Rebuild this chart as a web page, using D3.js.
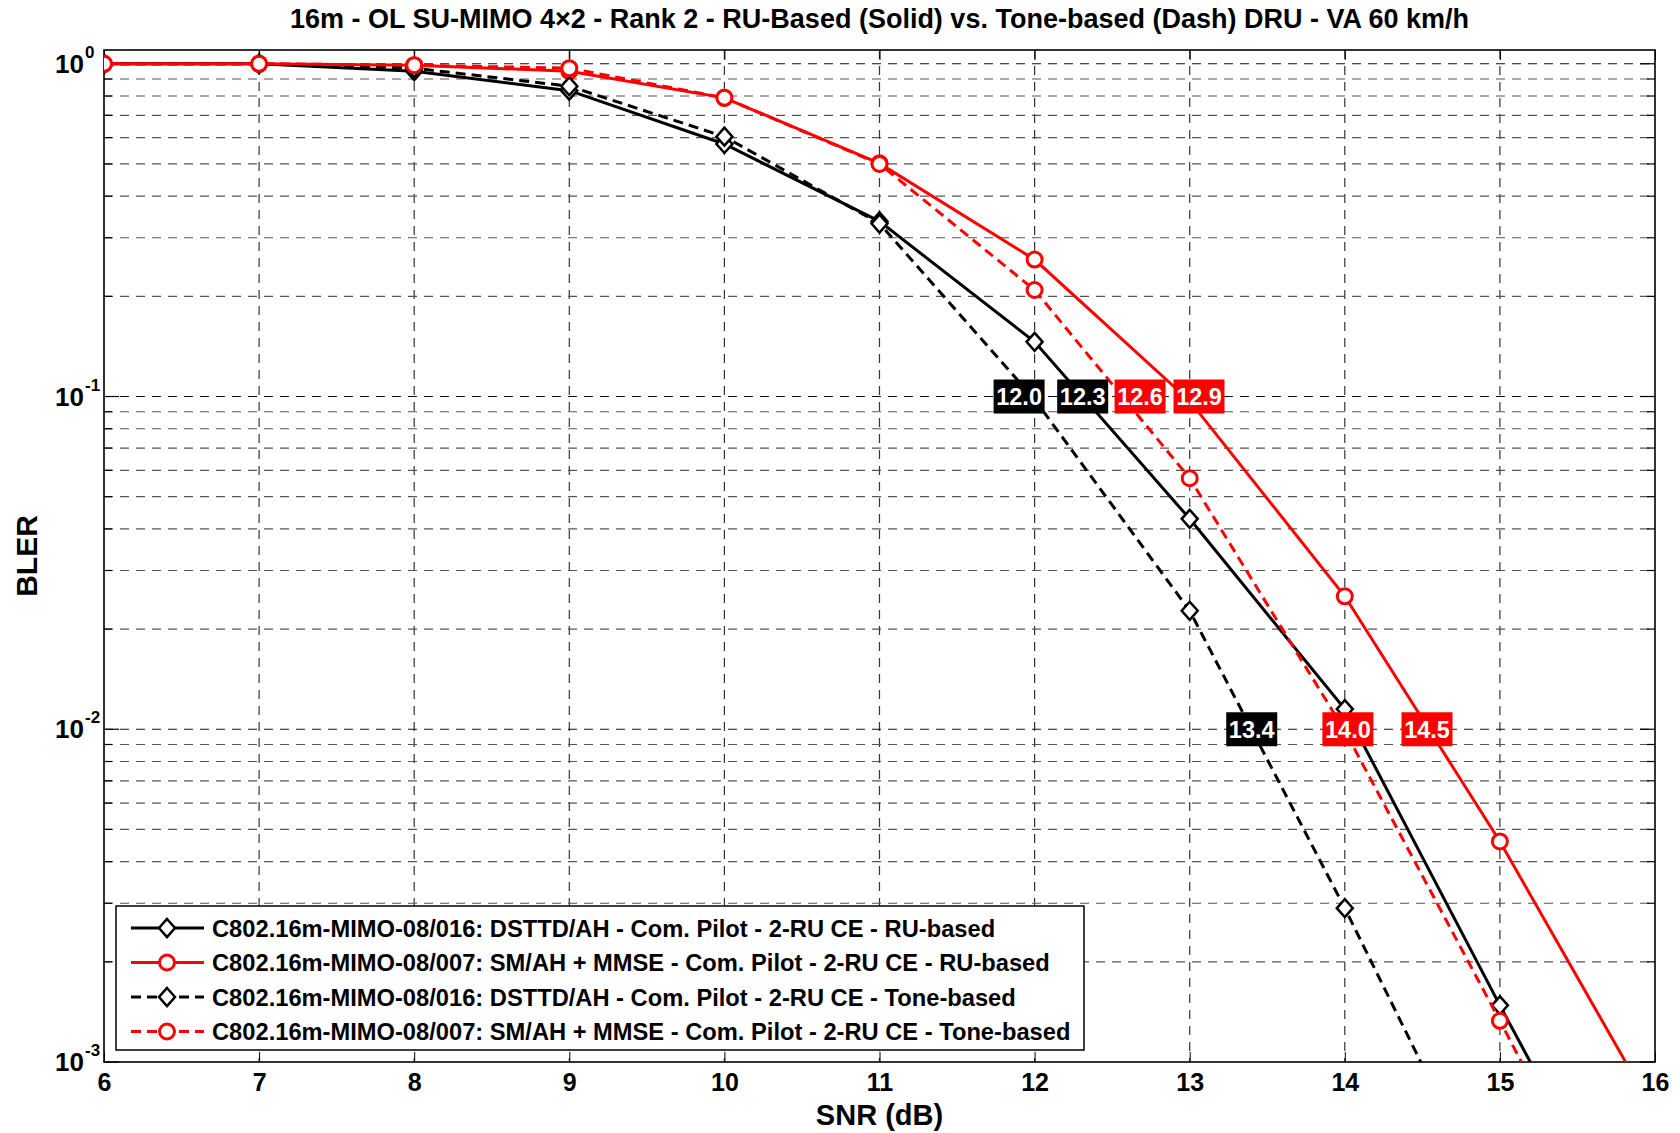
<!DOCTYPE html>
<html>
<head>
<meta charset="utf-8">
<script src="https://cdn.jsdelivr.net/npm/d3@7/dist/d3.min.js"></script>
<style>
  html, body { margin: 0; padding: 0; background: #fff; }
  svg text { font-family: "Liberation Sans Narrow", "Liberation Sans", Arial, sans-serif; font-weight: bold; }
  svg text.wide { font-family: "Liberation Sans", Arial, sans-serif; }
</style>
</head>
<body>
<div id="chart"></div>
<script>
// SNR grid (dB)
const snr = [6, 7, 8, 9, 10, 11, 12, 13, 14, 15, 16];

// BLER per curve
const blerDsttdRu = [1.0, 1.0, 0.95, 0.83, 0.574, 0.336, 0.146, 0.0429, 0.0115, 0.00148, 0.0002];
const blerSmRu = [1.0, 1.0, 0.99, 0.95, 0.79, 0.502, 0.258, 0.097, 0.0251, 0.0046, 0.0007];
const blerDsttdTone = [1.0, 1.0, 0.97, 0.856, 0.604, 0.331, 0.098, 0.0227, 0.0029, 0.00033];
const blerSmTone = [1.0, 1.0, 0.99, 0.97, 0.79, 0.5, 0.209, 0.0568, 0.0099, 0.00133, 0.00017];

const legendLabels = [
    'C802.16m-MIMO-08/016: DSTTD/AH - Com. Pilot - 2-RU CE - RU-based',
    'C802.16m-MIMO-08/007: SM/AH + MMSE - Com. Pilot - 2-RU CE - RU-based',
    'C802.16m-MIMO-08/016: DSTTD/AH - Com. Pilot - 2-RU CE - Tone-based',
    'C802.16m-MIMO-08/007: SM/AH + MMSE - Com. Pilot - 2-RU CE - Tone-based'
];

// threshold annotations (SNR at target BLER)
const markLabels = ['12.0', '12.3', '12.6', '12.9', '13.4', '14.0', '14.5'];
const markSnr = [11.9, 12.31, 12.68, 13.06, 13.4, 14.02, 14.53];
const markBler = [0.1, 0.1, 0.1, 0.1, 0.01, 0.01, 0.01];
const markScheme = ['DSTTD', 'DSTTD', 'SM', 'SM', 'DSTTD', 'SM', 'SM'];

const xTicks = [6, 7, 8, 9, 10, 11, 12, 13, 14, 15, 16];
const yMajor = [-3, -2, -1, 0];

const width = 1680, height = 1133;
const margin = { top: 50, right: 25, bottom: 71, left: 104 };
const RED = '#ff0000';

const series = [
    { values: blerDsttdRu, color: '#000', dash: null, marker: 'diamond' },
    { values: blerSmRu, color: RED, dash: null, marker: 'circle' },
    { values: blerDsttdTone, color: '#000', dash: '10,6', marker: 'diamond' },
    { values: blerSmTone, color: RED, dash: '10,6', marker: 'circle' }
];

const svg = d3.select('#chart').append('svg')
    .attr('width', width)
    .attr('height', height);

const x = d3.scaleLinear()
    .domain([6, 16])
    .range([margin.left, width - margin.right]);

const y = d3.scaleLog()
    .domain([1e-3, 1.1])
    .range([height - margin.bottom, margin.top]);

const x0 = x.range()[0], x1 = x.range()[1];
const yB = y.range()[0], yT = y.range()[1];

svg.append('defs').append('clipPath').attr('id', 'plot-clip')
    .append('rect')
    .attr('x', x0).attr('y', yT)
    .attr('width', x1 - x0).attr('height', yB - yT);

// minor + major y values for the log grid
const yGrid = [];
yMajor.forEach((d) => {
    for (let m = 1; m <= 9; m++) {
        const v = m * Math.pow(10, d);
        if (v <= 1.1) yGrid.push({ v: v, major: m === 1 });
    }
});

const grid = svg.append('g').classed('grid', true);

grid.selectAll('line.gx')
    .data(xTicks.slice(1, -1))
    .join('line')
    .attr('class', 'gx')
    .attr('x1', (d) => x(d)).attr('x2', (d) => x(d))
    .attr('y1', yT).attr('y2', yB)
    .attr('stroke', '#333')
    .attr('stroke-width', 1.2)
    .attr('stroke-dasharray', '9,7');

grid.selectAll('line.gy')
    .data(yGrid.filter((d) => d.v > 1e-3))
    .join('line')
    .attr('class', 'gy')
    .attr('x1', x0).attr('x2', x1)
    .attr('y1', (d) => y(d.v)).attr('y2', (d) => y(d.v))
    .attr('stroke', (d) => (d.major ? '#111' : '#555'))
    .attr('stroke-width', 1.2)
    .attr('stroke-dasharray', '9,7');

// axes: MATLAB style inward ticks on all four sides
const axes = svg.append('g').classed('axes', true);

axes.append('g')
    .attr('transform', `translate(0,${yB})`)
    .call(d3.axisBottom(x).tickValues(xTicks).tickSize(-10).tickPadding(11).tickFormat(d3.format('d')))
    .call((g) => g.select('.domain').remove())
    .call((g) => g.selectAll('text').attr('font-size', 25).attr('fill', '#000'));

axes.append('g')
    .attr('transform', `translate(0,${yT})`)
    .call(d3.axisTop(x).tickValues(xTicks).tickSize(-10).tickFormat(''))
    .call((g) => g.select('.domain').remove());

axes.selectAll('line.ytl')
    .data(yGrid)
    .join('line')
    .attr('class', 'ytl')
    .attr('x1', x0).attr('x2', (d) => x0 + (d.major ? 15 : 8))
    .attr('y1', (d) => y(d.v)).attr('y2', (d) => y(d.v))
    .attr('stroke', '#000').attr('stroke-width', 1.2);

axes.selectAll('line.ytr')
    .data(yGrid)
    .join('line')
    .attr('class', 'ytr')
    .attr('x1', x1).attr('x2', (d) => x1 - (d.major ? 15 : 8))
    .attr('y1', (d) => y(d.v)).attr('y2', (d) => y(d.v))
    .attr('stroke', '#000').attr('stroke-width', 1.2);

axes.selectAll('text.ylab')
    .data(yMajor)
    .join('text')
    .attr('class', 'ylab')
    .attr('x', x0 - 20)
    .attr('y', (d) => y(Math.pow(10, d)) + 9)
    .attr('text-anchor', 'end')
    .attr('font-size', 26)
    .text('10');

axes.selectAll('text.yexp')
    .data(yMajor)
    .join('text')
    .attr('class', 'yexp')
    .attr('x', x0 - 19)
    .attr('y', (d) => y(Math.pow(10, d)) - 6)
    .attr('text-anchor', 'start')
    .attr('font-size', 17)
    .text((d) => String(d));

axes.append('rect')
    .attr('x', x0).attr('y', yT)
    .attr('width', x1 - x0).attr('height', yB - yT)
    .attr('fill', 'none')
    .attr('stroke', '#000')
    .attr('stroke-width', 1.6);

// curves
const line = d3.line()
    .x((d) => x(d[0]))
    .y((d) => y(d[1]));

const curves = svg.append('g').attr('clip-path', 'url(#plot-clip)');

function drawMarker(sel, kind, color) {
    if (kind === 'circle') {
        sel.append('circle')
            .attr('r', 7.5)
            .attr('fill', '#fff')
            .attr('stroke', color)
            .attr('stroke-width', 3);
    } else {
        sel.append('path')
            .attr('d', 'M0,-9L8,0L0,9L-8,0Z')
            .attr('fill', '#fff')
            .attr('stroke', color)
            .attr('stroke-width', 2.5);
    }
}

series.forEach((s) => {
    const pts = s.values.map((v, i) => [snr[i], v]);
    curves.append('path')
        .datum(pts)
        .attr('d', line)
        .attr('fill', 'none')
        .attr('stroke', s.color)
        .attr('stroke-width', 3)
        .attr('stroke-dasharray', s.dash);
    pts.filter((p) => p[1] >= 1e-3).forEach((p) => {
        const g = curves.append('g').attr('transform', `translate(${x(p[0])},${y(p[1])})`);
        drawMarker(g, s.marker, s.color);
    });
});

// threshold boxes
const marks = svg.append('g').classed('marks', true);
markLabels.forEach((t, i) => {
    const g = marks.append('g')
        .attr('transform', `translate(${x(markSnr[i])},${y(markBler[i])})`);
    g.append('rect')
        .attr('x', -25.5).attr('y', -17)
        .attr('width', 51).attr('height', 34)
        .attr('fill', markScheme[i] === 'SM' ? RED : '#000');
    g.append('text')
        .attr('class', 'wide')
        .attr('y', 8.5)
        .attr('text-anchor', 'middle')
        .attr('font-size', 23.5)
        .attr('fill', '#fff')
        .text(t);
});

// legend
const legend = svg.append('g').attr('transform', 'translate(116,906)');
legend.append('rect')
    .attr('width', 968).attr('height', 144)
    .attr('fill', '#fff')
    .attr('stroke', '#000')
    .attr('stroke-width', 1.5);

series.forEach((s, i) => {
    const row = legend.append('g').attr('transform', `translate(0,${22 + i * 34.5})`);
    row.append('line')
        .attr('x1', 15).attr('x2', 88)
        .attr('stroke', s.color)
        .attr('stroke-width', 3)
        .attr('stroke-dasharray', s.dash ? '10,6' : null);
    drawMarker(row.append('g').attr('transform', 'translate(51,0)'), s.marker, s.color);
    row.append('text')
        .attr('x', 96).attr('y', 8.5)
        .attr('font-size', 23.7)
        .text(legendLabels[i]);
});

// titles
svg.append('text')
    .attr('x', (x0 + x1) / 2).attr('y', 28)
    .attr('text-anchor', 'middle')
    .attr('font-size', 27)
    .text('16m - OL SU-MIMO 4\u00d72 - Rank 2 - RU-Based (Solid) vs. Tone-based (Dash) DRU - VA 60 km/h');

svg.append('text')
    .attr('x', (x0 + x1) / 2).attr('y', 1125)
    .attr('text-anchor', 'middle')
    .attr('font-size', 29)
    .text('SNR (dB)');

svg.append('text')
    .attr('transform', `translate(37,${(yT + yB) / 2}) rotate(-90)`)
    .attr('text-anchor', 'middle')
    .attr('font-size', 30)
    .text('BLER');
</script>
</body>
</html>
